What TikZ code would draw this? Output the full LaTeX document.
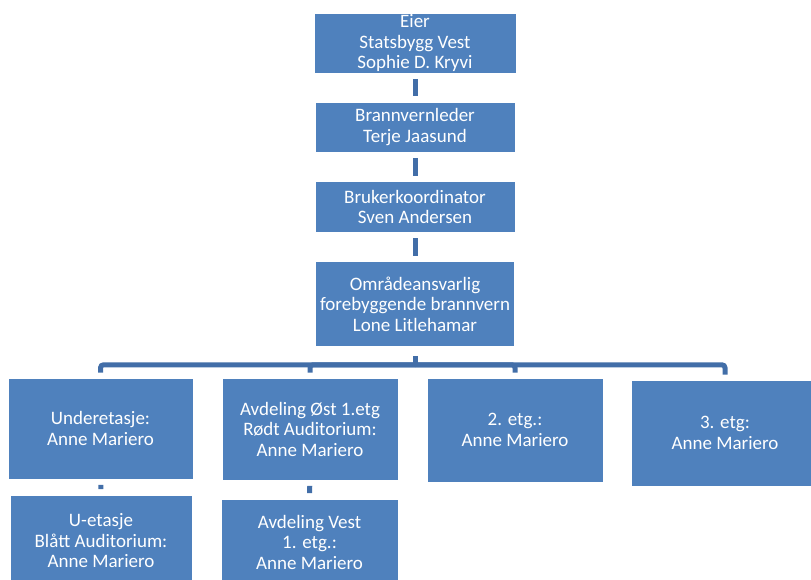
\documentclass[tikz,border=0pt]{standalone}
\usepackage{fontspec}
\setmainfont{Carlito}
\definecolor{boxblue}{RGB}{79,129,189}
\definecolor{lineblue}{RGB}{66,110,168}

\begin{document}
\begin{tikzpicture}[x=1pt,y=-1pt,
      main node/.style={rectangle,fill=boxblue,draw=white,line width=0.6pt,
      text=white,font=\fontsize{19}{20.5}\selectfont,align=center,inner sep=0pt},
      link/.style={draw=lineblue,line width=5pt,shorten <=5.5pt,shorten >=5.5pt},
      branch/.style={draw=lineblue,line width=5pt,shorten >=5pt,rounded corners=3pt}]

      \useasboundingbox (0,0) rectangle (811,579);
      \clip (0,0) rectangle (811,579);

      %% THE CHAIN AT THE TOP
      \node[main node,minimum width=202pt,minimum height=60pt] (eier) at (415,43)
            {Eier\\Statsbygg Vest\\Sophie D. Kryvi};
      \node[main node,minimum width=200pt,minimum height=50pt] (leder) at (415,127)
            {Brannvernleder\\Terje Jaasund};
      \node[main node,minimum width=200pt,minimum height=51pt] (koord) at (415,207)
            {Brukerkoordinator\\Sven Andersen};
      \node[main node,minimum width=199pt,minimum height=85pt] (omrade) at (415,304)
            {Områdeansvarlig\\forebyggende brannvern\\Lone Litlehamar};

      %% THE FLOORS
      \node[main node,minimum width=185pt,minimum height=101pt] (under) at (100.5,428.5)
            {Underetasje:\\Anne Mariero};
      \node[main node,minimum width=176pt,minimum height=102pt] (ost) at (310,429)
            {Avdeling Øst 1.etg\\Rødt Auditorium:\\Anne Mariero};
      \node[main node,minimum width=176pt,minimum height=104pt] (etg2) at (515,430)
            {2. etg.:\\Anne Mariero};
      \node[main node,minimum width=188pt,minimum height=106pt] (etg3) at (725,433)
            {3. etg:\\Anne Mariero};
      \node[main node,minimum width=182pt,minimum height=92pt] (uetg) at (101,541)
            {U-etasje\\Blått Auditorium:\\Anne Mariero};
      \node[main node,minimum width=177pt,minimum height=86pt] (vest) at (309.5,542)
            {Avdeling Vest\\1. etg.:\\Anne Mariero};

      %% THE LINKS
      \path (eier) edge[link] (leder)
            (leder) edge[link] (koord)
            (koord) edge[link] (omrade)
            (under) edge[link] (uetg)
            (ost) edge[link] (vest);

      \draw[draw=lineblue,line width=5pt,shorten <=9pt] (omrade.south) -- ++(0,18) coordinate (bar);
      \draw[branch] (bar) -| (under.north);
      \draw[branch] (bar) -| (ost.north);
      \draw[branch] (bar) -| (etg2.north);
      \draw[branch] (bar) -| (etg3.north);
\end{tikzpicture}
\end{document}
